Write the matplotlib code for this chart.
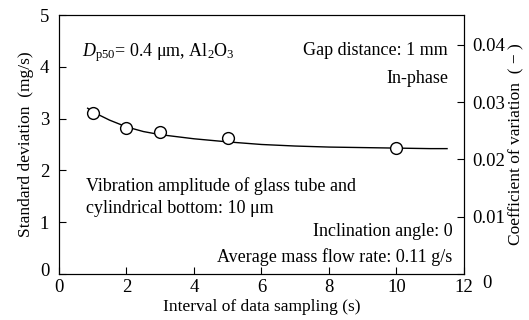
import matplotlib
matplotlib.use('Agg')
import matplotlib.pyplot as plt
import matplotlib.transforms as mtransforms

plt.rcParams['font.family'] = ['Liberation Serif', 'DejaVu Serif']
plt.rcParams['mathtext.fontset'] = 'custom'
plt.rcParams['mathtext.rm'] = 'Liberation Serif'
plt.rcParams['mathtext.it'] = 'Liberation Serif:italic'

# measured points
interval = [1, 2, 3, 5, 10]
std_dev = [3.11, 2.81, 2.74, 2.62, 2.44]

# fitted curve
curve_x = [0.85, 1, 1.5, 2, 2.5, 3, 4, 5, 6, 7, 8, 9, 10, 11, 11.5]
curve_y = [3.20, 3.13, 2.97, 2.84, 2.75, 2.69, 2.61, 2.55, 2.50, 2.47, 2.45, 2.44, 2.43, 2.42, 2.42]

xticks = [0, 2, 4, 6, 8, 10, 12]
yticks = [0, 1, 2, 3, 4, 5]
cv_ticks = [0, 0.01, 0.02, 0.03, 0.04]
cv_labels = ['0', '0.01', '0.02', '0.03', '0.04']

fig = plt.figure(figsize=(5.29, 3.2), dpi=100)
ax = fig.add_axes([0.1115, 0.144, 0.7655, 0.809])

ax.plot(curve_x, curve_y, color='black', lw=1.0)
ax.plot(interval, std_dev, 'o', ms=8.5, mfc='white', mec='black', mew=1.0)

ax.set_xlim(0, 12)
ax.set_ylim(0, 5)
ax.set_xticks(xticks)
ax.set_yticks(yticks)
ax.tick_params(direction='in', length=5, labelsize=13.5, top=False, right=False)
ax.tick_params(axis='y', pad=7)
ax.set_xlabel('Interval of data sampling (s)', fontsize=12.5, labelpad=2)
ax.set_ylabel('Standard deviation  (mg/s)', fontsize=12.5, labelpad=4)

ax2 = ax.twinx()
ax2.set_ylim(0, 0.0452)
ax2.set_yticks(cv_ticks)
ax2.set_yticklabels(cv_labels)
ax2.tick_params(direction='in', length=5, labelsize=13.5, pad=6)
ax2.set_ylabel('Coefficient of variation  ( \u2212 )', fontsize=12.5, labelpad=2)

# the zero labels sit a little off in the original
lab0 = ax2.get_yticklabels()[0]
lab0.set_transform(lab0.get_transform() + mtransforms.ScaledTranslation(0.10, -0.08, fig.dpi_scale_trans))
labl0 = ax.get_yticklabels()[0]
labl0.set_transform(labl0.get_transform() + mtransforms.ScaledTranslation(0, 0.04, fig.dpi_scale_trans))

fs = 13
ax.text(0.68, 4.27, r'$D_{\rm p50}$= 0.4 μm, Al$_2$O$_3$', fontsize=fs, va='center')
ax.text(11.53, 4.32, 'Gap distance: 1 mm', fontsize=fs, ha='right', va='center')
ax.text(11.53, 3.78, 'In-phase', fontsize=fs, ha='right', va='center')
ax.text(0.8, 1.70, 'Vibration amplitude of glass tube and', fontsize=fs, va='center')
ax.text(0.8, 1.27, 'cylindrical bottom: 10 μm', fontsize=fs, va='center')
ax.text(11.67, 0.81, 'Inclination angle: 0', fontsize=fs, ha='right', va='center')
ax.text(11.64, 0.33, 'Average mass flow rate: 0.11 g/s', fontsize=fs, ha='right', va='center')

fig.savefig('out.png', dpi=100)
